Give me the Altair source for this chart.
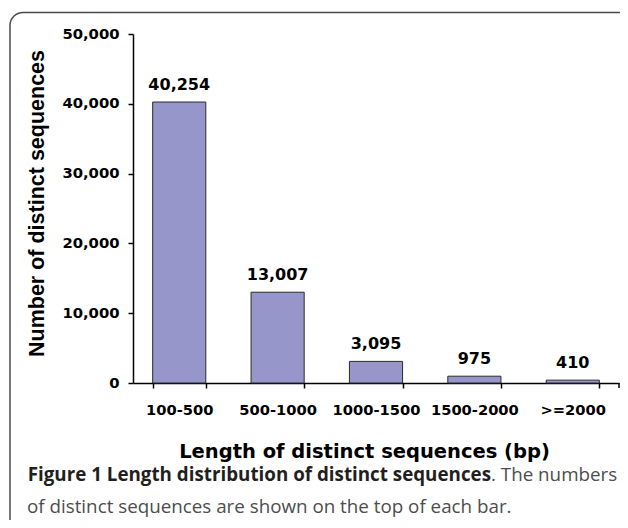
import altair as alt
import pandas as pd

categories = ["100-500", "500-1000", "1000-1500", "1500-2000", ">=2000"]
counts = [40254, 13007, 3095, 975, 410]
y_ticks = [0, 10000, 20000, 30000, 40000, 50000]

x_title = "Length of distinct sequences (bp)"
y_title = "Number of distinct sequences"
caption_bold = "Figure 1 Length distribution of distinct sequences"
caption_rest1 = ". The numbers"
caption_rest2 = "of distinct sequences are shown on the top of each bar."

df = pd.DataFrame({"length": categories, "count": counts})

W, H = 486, 349
BOLD = "DejaVu Sans"

xenc = alt.X(
    "length:N",
    sort=categories,
    scale=alt.Scale(paddingInner=0.46, paddingOuter=0.2),
    axis=alt.Axis(
        title=x_title,
        labelAngle=0,
        labelFont=BOLD,
        labelFontWeight="bold",
        labelFontSize=14.7,
        labelColor="black",
        labelPadding=14,
        tickBand="extent",
        tickSize=5,
        tickWidth=1.5,
        tickColor="black",
        domainColor="black",
        domainWidth=1.5,
        titleFont=BOLD,
        titleFontWeight="bold",
        titleFontSize=19.5,
        titleColor="black",
        titleX=231,
        titleY=74,
        titleBaseline="alphabetic",
        titleAnchor="middle",
        grid=False,
    ),
)
yenc = alt.Y(
    "count:Q",
    scale=alt.Scale(domain=[0, 50000], nice=False),
    axis=alt.Axis(
        title=y_title,
        values=y_ticks,
        format=",d",
        labelFont=BOLD,
        labelFontWeight="bold",
        labelFontSize=14.8,
        labelColor="black",
        labelPadding=9,
        tickSize=5,
        tickWidth=1.5,
        tickColor="black",
        domainColor="black",
        domainWidth=1.5,
        titleFont="Liberation Sans",
        titleFontWeight="bold",
        titleFontSize=21.5,
        titleColor="black",
        titleAngle=-90,
        titleX=-90,
        titleY=169,
        titleBaseline="alphabetic",
        titleAnchor="middle",
        grid=False,
    ),
)

bars = alt.Chart(df).mark_bar(
    color="#9696ca", stroke="#2b2b2b", strokeWidth=1
).encode(x=xenc, y=yenc)

labels = alt.Chart(df).mark_text(
    font=BOLD, fontWeight="bold", fontSize=16, color="black",
    baseline="alphabetic", dy=-12
).encode(
    x=xenc,
    y=yenc,
    text=alt.Text("count:Q", format=",d"),
)

one = alt.Data(values=[{"k": 1}])

end_tick = alt.Chart(one).mark_rule(color="black", strokeWidth=1.5).encode(
    x=alt.value(W), y=alt.value(H), y2=alt.value(H + 5)
)

frame = alt.Chart(one).mark_rect(
    fill="transparent", stroke="#4a4a4a", strokeWidth=1.5, cornerRadius=13
).encode(
    x=alt.value(-123), x2=alt.value(W + 40), y=alt.value(-21.5), y2=alt.value(H + 200)
)

CAP = 18.8
cap1 = alt.Chart(one).mark_text(
    font="Open Sans", fontWeight="bold", fontSize=CAP, color="#231f20",
    align="right", baseline="alphabetic"
).encode(x=alt.value(358), y=alt.value(447), text=alt.value(caption_bold))

cap2 = alt.Chart(one).mark_text(
    font="Open Sans", fontSize=CAP, color="#4d4d4d",
    align="left", baseline="alphabetic"
).encode(x=alt.value(358), y=alt.value(447), text=alt.value(caption_rest1))

cap3 = alt.Chart(one).mark_text(
    font="Open Sans", fontSize=CAP, color="#4d4d4d",
    align="left", baseline="alphabetic"
).encode(x=alt.value(-106), y=alt.value(479), text=alt.value(caption_rest2))

chart = alt.layer(frame, bars, labels, end_tick, cap1, cap2, cap3).properties(
    width=W,
    height=H,
    autosize=alt.AutoSizeParams(type="none"),
    padding={"left": 125, "top": 26, "right": 1, "bottom": 137},
    background="white",
).configure_view(strokeWidth=0)

chart.save("out.html", embed_options={"renderer": "svg", "actions": False})
